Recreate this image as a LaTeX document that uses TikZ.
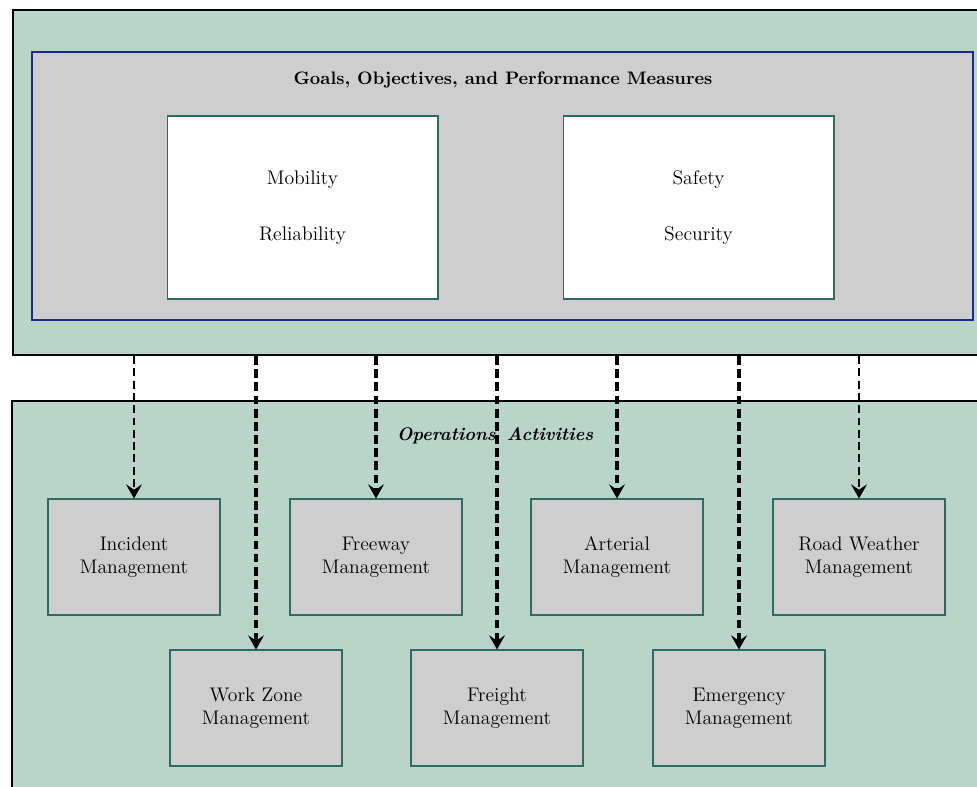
\documentclass[tikz,border=0pt]{standalone}
\usetikzlibrary{arrows.meta}
\definecolor{panelgreen}{HTML}{B9D5CA}
\definecolor{boxgray}{HTML}{CECECE}
\definecolor{boxedge}{HTML}{2E6B62}
\definecolor{goalblue}{HTML}{1B2A8A}
\tikzset{
  panel/.style={draw=black, line width=1.2pt, fill=panelgreen, inner sep=0pt},
  goalbox/.style={draw=goalblue, line width=1.3pt, fill=boxgray, inner sep=0pt,
    minimum width=18.82cm, minimum height=5.36cm},
  measurebox/.style={draw=boxedge, line width=0.6pt, fill=white, align=center,
    minimum width=5.42cm, minimum height=3.66cm, font=\fontsize{11.2}{32}\selectfont},
  opbox/.style={draw=boxedge, line width=0.6pt, fill=boxgray, align=center,
    minimum width=3.44cm, minimum height=2.32cm, font=\fontsize{11.2}{13}\selectfont},
  flow/.style={-{Stealth[length=8pt,width=9pt,inset=3pt]}},
  thinflow/.style={flow, line width=1.1pt, dash pattern=on 4.5pt off 2.5pt},
  thickflow/.style={flow, line width=2.1pt, dash pattern=on 5pt off 2.5pt},
}
\begin{document}
\begin{tikzpicture}[x=0.02cm, y=-0.02cm]
    \useasboundingbox (0,0) rectangle (977,787);
    \clip (0,0) rectangle (977,787);
    % top panel: goals and measures
    \node[panel, minimum width=19.54cm, minimum height=6.9cm] (goals) at (501.5,182.5) {};
    \node[goalbox] (measures) at (502.5,186) {};
    \node[font=\fontsize{10.3}{13}\selectfont\bfseries] (title) at (503,80) {Goals, Objectives, and Performance Measures};
    \node[measurebox] (mobility) at (302.5,207.5) {Mobility\\Reliability};
    \node[measurebox] (safety) at (698.5,207.5) {Safety\\Security};
    % bottom panel: operations activities
    \node[panel, minimum width=19.56cm, minimum height=7.98cm] (ops) at (501,600.5) {};
    \node[font=\fontsize{10.4}{13}\selectfont\bfseries\itshape] (opstitle) at (495,436) {Operations\hspace{0.6em}Activities};
    \node[opbox] (incident) at (134,557) {Incident\\Management};
    \node[opbox] (freeway) at (376,557) {Freeway\\Management};
    \node[opbox] (arterial) at (617,557) {Arterial\\Management};
    \node[opbox] (weather) at (859,557) {Road Weather\\Management};
    \node[opbox] (workzone) at (256,708) {Work Zone\\Management};
    \node[opbox] (freight) at (497,708) {Freight\\Management};
    \node[opbox] (emergency) at (739,708) {Emergency\\Management};
    % links
    \draw[thinflow] (goals.south -| incident.north) -- (incident.north);
    \draw[thickflow] (goals.south -| workzone.north) -- (workzone.north);
    \draw[thickflow] (goals.south -| freeway.north) -- (freeway.north);
    \draw[thickflow] (goals.south -| freight.north) -- (freight.north);
    \draw[thickflow] (goals.south -| arterial.north) -- (arterial.north);
    \draw[thickflow] (goals.south -| emergency.north) -- (emergency.north);
    \draw[thinflow] (goals.south -| weather.north) -- (weather.north);
\end{tikzpicture}
\end{document}
